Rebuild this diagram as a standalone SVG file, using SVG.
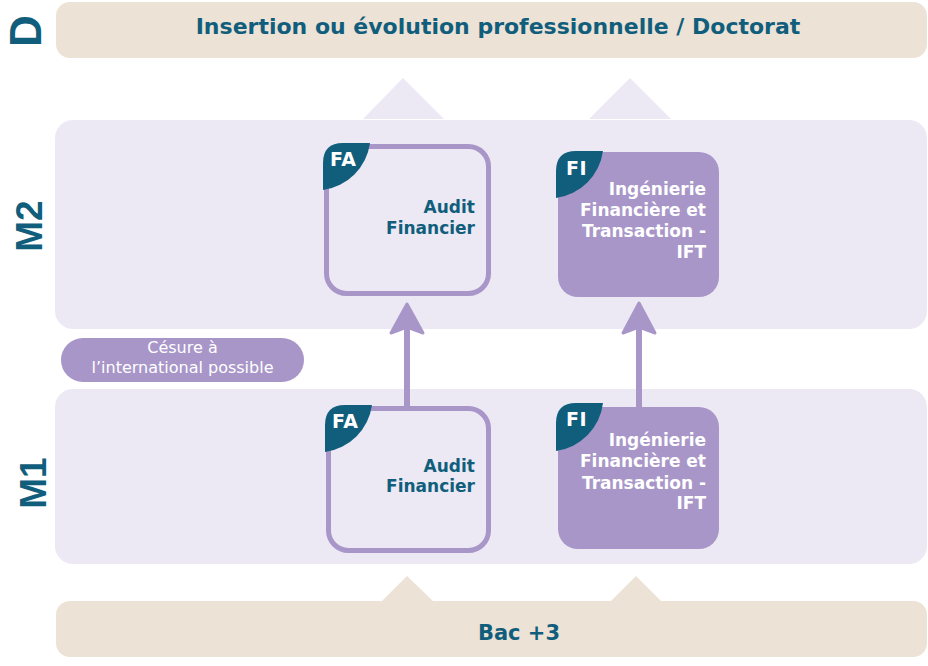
<svg xmlns="http://www.w3.org/2000/svg" width="928" height="666" viewBox="0 0 928 666">
<style>
.beige{fill:#ece2d6}
.band{fill:#ece9f5}
.purple{fill:#a896c8}
.teal{fill:#115e7c}
.lvl{font-family:"Liberation Sans",Arial,sans-serif;font-weight:bold;fill:#115e7c}
.ttl{font-family:"DejaVu Sans",sans-serif;font-weight:bold;fill:#115e7c;text-anchor:middle}
.box-out{fill:#ece9f5;stroke:#a896c8;stroke-width:5}
.box-in{fill:#a896c8}
.tag{font-family:"DejaVu Sans",sans-serif;font-weight:bold;font-size:19px;fill:#ffffff;letter-spacing:0.5px}
.lab{font-family:"DejaVu Sans",sans-serif;font-weight:bold;font-size:17px;text-anchor:end}
.lab-t{fill:#115e7c}
.lab-w{fill:#ffffff}
.pill{font-family:"DejaVu Sans",sans-serif;font-size:16px;fill:#ffffff;text-anchor:middle}
.conn{stroke:#a896c8;stroke-width:6;fill:none}
.head{fill:#a896c8;stroke:#a896c8;stroke-width:3;stroke-linejoin:round}
</style>

<!-- Level bands -->
<g id="level-D">
  <rect class="beige" x="56" y="2" width="871" height="56" rx="14"/>
  <text class="ttl" x="498" y="34" font-size="22px">Insertion ou évolution professionnelle / Doctorat</text>
  <text class="lvl" font-size="44px" text-anchor="middle" transform="translate(41,31) rotate(-90)">D</text>
  <polygon class="band" points="403,78 444,119 363,119"/>
  <polygon class="band" points="630,78 671,119 589,119"/>
</g>

<g id="level-M2">
  <rect class="band" x="55" y="120" width="872" height="209" rx="18"/>
  <text class="lvl" font-size="37px" text-anchor="middle" transform="translate(42,226) rotate(-90)">M2</text>
</g>

<g id="cesure">
  <rect class="purple" x="61" y="338" width="243" height="44" rx="22"/>
  <text class="pill" x="182.5" y="353">Césure à</text>
  <text class="pill" x="182.5" y="373">l’international possible</text>
</g>

<g id="level-M1">
  <rect class="band" x="55" y="389" width="872" height="175" rx="18"/>
  <text class="lvl" font-size="37px" text-anchor="middle" transform="translate(46,483) rotate(-90)">M1</text>
</g>

<g id="level-bac3">
  <polygon class="beige" points="407,576 434,602 381,602"/>
  <polygon class="beige" points="636,576 662,602 610,602"/>
  <rect class="beige" x="56" y="601" width="871" height="56" rx="14"/>
  <text class="ttl" x="519" y="640" font-size="21px">Bac +3</text>
</g>

<!-- Connectors -->
<g id="connectors">
  <line class="conn" x1="407" y1="328" x2="407" y2="406"/>
  <path class="head" d="M407,304 L423,333 L407,327 L391,333 Z"/>
  <line class="conn" x1="639" y1="328" x2="639" y2="407"/>
  <path class="head" d="M639,303 L655,333 L639,327 L623,333 Z"/>
</g>

<!-- Nodes -->
<g id="m2-audit">
  <rect class="box-out" x="326.5" y="146.5" width="162" height="147" rx="20"/>
  <path class="teal" d="M323,163 Q323,143 343,143 L370,143 A55,55 0 0 1 323,190 Z"/>
  <text class="tag" x="330" y="166">FA</text>
  <text class="lab lab-t" x="475" y="213">Audit</text>
  <text class="lab lab-t" x="475" y="234">Financier</text>
</g>

<g id="m2-ift">
  <rect class="box-in" x="558" y="152" width="161" height="145" rx="20"/>
  <path class="teal" d="M556,171 Q556,151 576,151 L603,151 A55,55 0 0 1 556,198 Z"/>
  <text class="tag" x="566" y="175">FI</text>
  <text class="lab lab-w" x="706" y="195">Ingénierie</text>
  <text class="lab lab-w" x="706" y="216">Financière et</text>
  <text class="lab lab-w" x="706" y="237">Transaction -</text>
  <text class="lab lab-w" x="706" y="258">IFT</text>
</g>

<g id="m1-audit">
  <rect class="box-out" x="328.5" y="408.5" width="160" height="142" rx="20"/>
  <path class="teal" d="M325,425 Q325,405 345,405 L372,405 A55,55 0 0 1 325,452 Z"/>
  <text class="tag" x="332" y="428">FA</text>
  <text class="lab lab-t" x="475" y="472">Audit</text>
  <text class="lab lab-t" x="475" y="492">Financier</text>
</g>

<g id="m1-ift">
  <rect class="box-in" x="558" y="407" width="161" height="142" rx="20"/>
  <path class="teal" d="M556,423 Q556,403 576,403 L603,403 A55,55 0 0 1 556,451 Z"/>
  <text class="tag" x="566" y="426">FI</text>
  <text class="lab lab-w" x="706" y="446">Ingénierie</text>
  <text class="lab lab-w" x="706" y="467">Financière et</text>
  <text class="lab lab-w" x="706" y="489">Transaction -</text>
  <text class="lab lab-w" x="706" y="509">IFT</text>
</g>
</svg>
